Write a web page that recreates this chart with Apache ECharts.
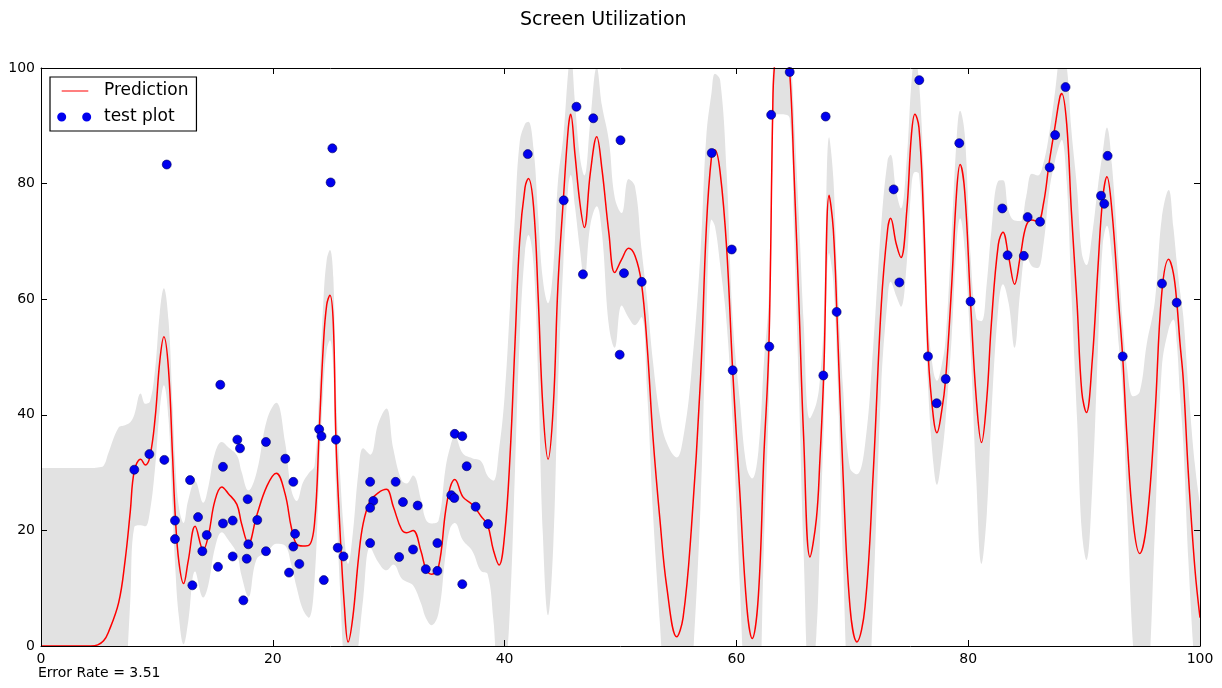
<!DOCTYPE html>
<html>
<head>
<meta charset="utf-8">
<title>Screen Utilization</title>
<script src="https://cdn.jsdelivr.net/npm/echarts@6/dist/echarts.min.js"></script>
<style>
html,body{margin:0;padding:0;background:#fff;}
#chart{width:1222px;height:688px;}
</style>
</head>
<body>
<div id="chart"></div>
<script>
// x positions of the prediction curve and of its band
var xs = [0,2.5,4.3,4.9,5.4,5.8,6.7,7.25,7.7,8.05,8.6,9.0,9.4,9.85,10.25,10.6,11.0,11.35,11.6,11.9,
  12.3,12.7,13.3,14.0,14.45,15.0,15.6,16.15,16.9,17.3,17.9,18.6,19.5,20.3,21.05,21.6,22.06,22.6,23.1,23.6,
  24.0,24.36,24.65,24.93,25.22,25.45,25.8,26.18,26.5,26.9,27.4,27.8,28.4,29.1,29.8,30.4,31.1,31.55,32.1,32.8,
  33.2,33.7,34.3,34.9,35.3,35.7,36.4,37.2,37.95,38.54,39.03,39.52,40.0,40.47,40.9,41.3,41.76,42.05,42.5,42.9,
  43.3,43.75,44.2,44.6,45.07,45.5,45.7,46.07,46.5,46.88,47.4,47.95,48.4,49.0,49.5,50.1,50.7,51.25,51.8,52.3,
  52.8,53.4,54.0,54.85,55.4,56.1,56.9,57.4,57.86,58.15,58.6,59.16,59.68,60.3,60.9,61.36,61.9,62.37,62.8,63.13,
  63.27,63.95,64.6,64.97,65.4,65.8,66.35,66.9,67.2,67.53,68.0,68.36,68.7,69.2,69.8,70.4,71.1,71.8,72.5,73.05,
  73.3,73.8,74.2,74.7,75.1,75.4,75.75,76.13,76.56,77.0,77.3,77.7,78.05,78.57,79.0,79.3,79.7,80.2,80.7,81.15,
  81.6,82.0,82.6,83.0,83.5,84.0,84.5,85.0,85.5,86.0,86.5,87.0,87.5,87.9,88.07,88.5,88.9,89.4,89.8,90.2,
  90.7,91.2,91.6,91.97,92.4,93.0,93.33,93.7,94.25,94.8,95.4,96.1,96.7,97.3,97.7,98.0,98.27,98.56,99.0,99.56,100];

var prediction = [0,0,0,0.2,0.9,2.3,7.5,14.7,23.2,30.3,32.3,31.3,32.8,39.5,49.3,53.5,47.9,32.9,22,14.5,
  10.8,14.7,20.7,16.6,19.2,25.1,27.5,26.4,24.5,21.2,17.7,22.5,27.7,29.9,26.4,20.5,17.6,17.3,17.4,21.2,
  37,52,59,60.7,55.8,35.7,19.9,6.8,0.7,4.9,15.3,21.2,25.1,26.5,27.1,24.1,20.2,19.6,20.0,16.3,
  13.4,12.4,13.7,23.2,27.4,28.8,25.8,24.5,22.5,20.9,16.6,14.0,19.2,32.9,52.5,70.1,79.3,80.9,76.0,60.3,
  41.4,32.3,41.4,62.3,77.3,89.7,92.0,85.1,76.6,72.4,81.9,88.1,82.5,71.4,64.6,66.9,68.8,67.5,62.9,51.9,
  36.2,21.9,10.1,1.6,4.9,19.9,46.0,72.1,84.8,85.8,81.9,68.8,47.6,26.4,6.8,1.3,8.8,32.9,51.7,92,
  100,112,99.3,81.9,59.0,36.2,15.4,22,32,46.8,78.0,72.1,56,29.7,6.8,0.7,6.8,29.7,59.0,72.1,
  74.0,69.5,67.2,75.3,88.4,92.0,89.7,75.3,50.0,39.5,36.9,40.5,46.1,62.3,78.6,83.3,78.6,59.6,42.7,35.2,
  42.7,55.8,69.5,71.6,67.2,62.6,67.5,72.7,73.7,73.4,76.6,83.8,90.0,94.9,95.6,90.3,75.3,59.0,44.0,40.4,
  49.3,65.6,77.3,81.2,75.3,58.9,50.0,36.2,21.2,16.0,21.2,39.5,61.0,66.9,64.5,59.4,52.5,46,29.7,13.4,4.9];

var upper = [30.8,30.8,30.8,30.9,31.2,33.3,37.8,38.2,38.7,40.0,43.7,41.9,42.3,48.0,57.7,61.9,56.4,41.9,31.0,24.0,
  21.3,25.2,28.5,24.8,27.7,33.3,35.3,34.4,33.0,30.2,26.9,30.0,39.2,42.1,35.4,27.0,25.1,28.3,29.9,31.2,
  44.0,59.5,66.8,68.5,63.8,44.2,29.9,18.8,14.2,19.4,30.3,34.2,33.1,38.5,41.1,34.1,28.7,28.1,29.5,25.3,
  21.9,21.2,21.7,30.7,34.4,36.3,33.3,32.5,32.0,29.4,28.6,34.0,43.2,58.9,74.5,87.1,90.3,90.7,86.0,74.3,
  63.4,59.3,65.4,80.3,88.3,99.7,102.5,94.1,84.6,81.4,90.9,100.1,93.5,87.4,77.6,74.9,80.8,79.5,68.9,59.9,
  49.2,39.9,35.1,32.6,35.9,46.9,68.0,88.1,95.8,99.0,97.9,81.8,56.6,42.4,30.8,29.0,33.8,48.9,60.7,99.0,
  108.0,132,107.3,91.9,74.0,56.2,39.4,42.0,46.0,55.8,88.0,81.1,64.0,44.7,30.8,29.7,34.8,51.7,73.0,84.1,
  85.0,78.5,75.7,84.3,97.4,102.0,97.7,83.3,56.0,47.5,45.9,48.5,53.1,71.3,87.6,92.6,88.6,67.6,56.7,56.2,
  62.7,71.8,80.5,80.6,75.2,73.6,73.5,77.7,81.7,81.4,83.6,88.8,96.0,102.9,103.6,100.3,89.3,79.0,68.0,65.9,
  71.3,79.6,85.3,89.7,83.3,65.9,56.0,48.2,43.2,44.0,52.2,59.5,74.0,78.9,72.5,66.4,61.5,57.0,44.7,31.4,24.5];

var lower = [-30.8,-30.8,-30.8,-30.5,-29.4,-28.7,-22.8,-8.8,7.7,20.6,20.9,20.7,23.3,31.0,40.9,45.1,39.4,23.9,13.0,5.0,
  0.3,4.2,12.9,8.4,10.7,16.9,19.7,18.4,16.0,12.2,8.5,15.0,16.2,17.7,17.4,14.0,10.1,6.3,4.9,11.2,
  30.0,44.5,51.2,52.9,47.8,27.2,9.9,-5.2,-12.8,-9.6,0.3,8.2,17.1,14.5,13.1,14.1,11.7,11.1,10.5,7.3,
  4.9,3.6,5.7,15.7,20.4,21.3,18.3,16.5,13.0,12.4,4.6,-6.0,-4.8,6.9,30.5,53.1,68.3,71.1,66.0,46.3,
  19.4,5.3,17.4,44.3,66.3,79.7,81.5,76.1,68.6,63.4,72.9,76.1,71.5,55.4,51.6,58.9,56.8,55.5,56.9,43.9,
  23.2,3.9,-14.9,-29.4,-26.1,-7.1,24.0,56.1,73.8,72.6,65.9,55.8,38.6,10.4,-17.2,-26.4,-16.2,16.9,42.7,85.0,
  92.0,92,91.3,71.9,44.0,16.2,-8.6,2.0,18.0,37.8,68.0,63.1,48.0,14.7,-17.2,-28.3,-21.2,7.7,45.0,60.1,
  63.0,60.5,58.7,66.3,79.4,82.0,81.7,67.3,44.0,31.5,27.9,32.5,39.1,53.3,69.6,74.0,68.6,51.6,28.7,14.2,
  22.7,39.8,58.5,62.6,59.2,51.6,61.5,67.7,65.7,65.4,69.6,78.8,84.0,86.9,87.6,80.3,61.3,39.0,20.0,14.9,
  27.3,51.6,69.3,72.7,67.3,51.9,44.0,24.2,-0.8,-12.0,-9.8,19.5,48.0,54.9,56.5,52.4,43.5,35.0,14.7,-4.6,-14.7];

// test plot points
var testX = [8.05,9.35,10.85,10.64,11.56,11.56,12.86,13.06,13.55,13.92,14.3,15.27,15.47,15.7,15.7,16.54,16.54,16.94,17.17,17.46,
  17.83,17.89,17.75,18.66,19.41,19.41,21.08,21.4,21.77,21.92,21.77,22.29,24.0,24.2,24.4,25.14,24.99,25.45,25.6,26.1,
  28.4,28.67,28.4,28.4,30.6,31.23,30.9,32.1,32.5,33.2,34.2,34.2,35.4,35.66,35.7,36.35,36.35,36.73,37.5,38.57,
  42.0,45.1,46.2,46.76,47.65,50.0,50.3,49.93,51.83,57.87,59.6,59.68,62.84,63.0,64.6,67.7,67.5,68.65,73.57,74.06,
  75.78,76.53,77.28,78.06,79.23,80.2,82.94,83.4,84.8,85.13,86.2,87.03,87.5,88.4,91.46,91.74,92.03,93.33,96.72,97.99];
var testY = [30.5,33.2,83.3,32.2,21.7,18.5,28.7,10.5,22.3,16.4,19.2,13.7,45.2,31.0,21.2,21.7,15.5,35.7,34.2,7.9,
  25.4,17.6,15.1,21.8,35.3,16.4,32.4,12.7,28.4,19.4,17.2,14.2,37.5,36.3,11.4,86.1,80.2,35.7,17.0,15.5,
  28.4,25.1,23.9,17.8,28.4,24.9,15.4,16.7,24.3,13.3,17.8,13.0,26.1,25.6,36.7,36.3,10.7,31.1,24.1,21.1,
  85.1,77.1,93.3,64.3,91.3,87.5,64.5,50.4,63.0,85.3,68.6,47.7,51.8,91.9,99.3,91.6,46.8,57.8,79.0,62.9,
  97.9,50.1,42.0,46.2,87.0,59.6,75.7,67.6,67.5,74.2,73.4,82.8,88.4,96.7,77.9,76.5,84.8,50.1,62.7,59.4];

var predData = [], upperData = [], lowerData = [], testData = [];
for (var i = 0; i < xs.length; i++) {
  predData.push([xs[i], prediction[i]]);
  upperData.push([xs[i], upper[i]]);
  lowerData.push([xs[i], lower[i]]);
}
for (var j = 0; j < testX.length; j++) {
  testData.push([testX[j], testY[j]]);
}

var font = 'DejaVu Sans';
// legend marks: a short line, and two dots like matplotlib's numpoints=2
var lineIcon = 'path://M0,0h0.01v0.01h-0.01zM42,9.99h0.01v0.01h-0.01zM4.7,4.4h26.6v1.2h-26.6z';
var dotIcon = 'path://M0,0h0.01v0.01h-0.01zM42,9.99h0.01v0.01h-0.01zM0.2,5a4.5,4.5 0 1,0 9,0a4.5,4.5 0 1,0 -9,0zM25.2,5a4.5,4.5 0 1,0 9,0a4.5,4.5 0 1,0 -9,0z';

function axisBase(pos, withLabel) {
  return {
    type: 'value', min: 0, max: 100, interval: 20, position: pos, z: 10,
    axisLine: {show: true, onZero: false, lineStyle: {color: '#000', width: 1}},
    axisTick: {show: true, inside: true, length: 6, lineStyle: {color: '#000'}},
    axisLabel: withLabel ? {fontFamily: font, fontSize: 14, color: '#000', margin: 6} : {show: false},
    splitLine: {show: false}
  };
}

var option = {
  animation: false,
  backgroundColor: '#fff',
  title: {
    text: 'Screen Utilization',
    left: 515,
    top: 6,
    textStyle: {fontFamily: font, fontSize: 19, fontWeight: 'normal', color: '#000'}
  },
  legend: {
    left: 50,
    top: 77,
    orient: 'vertical',
    padding: [4, 8, 4, 7],
    itemGap: 6,
    itemWidth: 42,
    itemHeight: 10,
    borderColor: '#000',
    borderWidth: 1.2,
    borderRadius: 0,
    backgroundColor: '#fff',
    selectedMode: false,
    z: 12,
    textStyle: {fontFamily: font, fontSize: 17, color: '#000', lineHeight: 20},
    data: [
      {name: 'Prediction', icon: lineIcon, itemStyle: {color: '#ff0000', borderWidth: 0}},
      {name: 'test plot', icon: dotIcon, itemStyle: {color: '#0000ee', borderWidth: 0}}
    ]
  },
  grid: {left: 41, right: 22, top: 68, bottom: 42, show: false},
  xAxis: [axisBase('bottom', true), axisBase('top', false)],
  yAxis: [axisBase('left', true), axisBase('right', false)],
  graphic: [{
    type: 'text', left: 38, top: 666,
    style: {text: 'Error Rate = 3.51', font: '14px "DejaVu Sans"', fill: '#000'}
  }],
  series: [{
    // band: gray up to the upper bound ...
    name: 'band-upper',
    type: 'line',
    data: upperData,
    smooth: 0.4,
    symbol: 'none',
    lineStyle: {width: 0, opacity: 0},
    areaStyle: {color: '#e2e2e2', opacity: 1, origin: 'start'},
    silent: true,
    z: 1
  }, {
    // ... and white again below the lower bound
    name: 'band-lower',
    type: 'line',
    data: lowerData,
    smooth: 0.4,
    symbol: 'none',
    lineStyle: {width: 0, opacity: 0},
    areaStyle: {color: '#ffffff', opacity: 1, origin: 'start'},
    silent: true,
    z: 2
  }, {
    name: 'Prediction',
    type: 'line',
    data: predData,
    smooth: 0.4,
    symbol: 'none',
    color: '#ff0000',
    lineStyle: {color: '#ff0000', width: 1.5},
    z: 3
  }, {
    name: 'test plot',
    type: 'scatter',
    data: testData,
    symbol: 'circle',
    symbolSize: 9,
    itemStyle: {color: '#0000ee', borderColor: '#00005a', borderWidth: 0.6, opacity: 1},
    z: 4
  }]
};

var myChart = echarts.init(document.getElementById('chart'));
myChart.setOption(option);
</script>
</body>
</html>
